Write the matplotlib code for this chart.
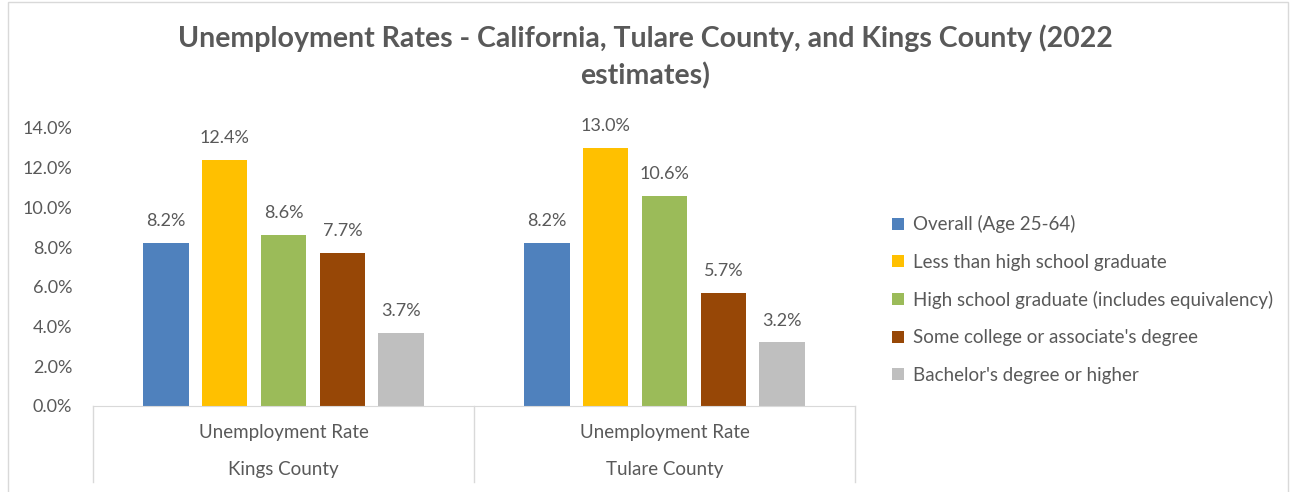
import matplotlib.pyplot as plt
from matplotlib.patches import Rectangle
from matplotlib.lines import Line2D

counties = ['Kings County', 'Tulare County']
measure = 'Unemployment Rate'
series = ['Overall (Age 25-64)', 'Less than high school graduate',
          'High school graduate (includes equivalency)',
          "Some college or associate's degree", "Bachelor's degree or higher"]
values = [
    [8.2, 8.2],
    [12.4, 13.0],
    [8.6, 10.6],
    [7.7, 5.7],
    [3.7, 3.2],
]
colors = ['#4f81bd', '#ffc000', '#9bbb59', '#974706', '#bfbfbf']
grey = '#595959'
line_grey = '#d9d9d9'

plt.rcParams['font.family'] = ['Lato', 'DejaVu Sans']

W, H = 1290, 492
fig = plt.figure(figsize=(W / 100, H / 100), dpi=100)
ax = fig.add_axes([93 / W, 1 - 406 / H, (855 - 93) / W, (406 - 128) / H])

step = 0.1545
width = 0.12
for i, (name, vals) in enumerate(zip(series, values)):
    xs = [g + (i - 2) * step for g in range(len(counties))]
    bars = ax.bar(xs, vals, width, color=colors[i], label=name)
    ax.bar_label(bars, labels=[f'{v:.1f}%' for v in vals], padding=10,
                 color=grey, fontsize=13)

ax.set_xlim(-0.5, len(counties) - 0.5)
ax.set_ylim(0, 14)
ax.set_yticks(range(0, 15, 2))
ax.set_yticklabels([f'{t:.1f}%' for t in range(0, 15, 2)])
ax.tick_params(axis='y', length=0, labelsize=13, labelcolor=grey, pad=15)
ax.set_xticks([])
for s in ['top', 'right', 'left']:
    ax.spines[s].set_visible(False)
ax.spines['bottom'].set_color(line_grey)

# category axis with two levels
for xb in [-0.5, 0.5, 1.5]:
    ax.add_line(Line2D([xb, xb], [0, -3.83], color=line_grey, lw=1, clip_on=False))
for g, c in enumerate(counties):
    ax.text(g, -1.35, measure, ha='center', va='center', color=grey, fontsize=13.5)
    ax.text(g, -3.2, c, ha='center', va='center', color=grey, fontsize=13.5)

fig.text(0.5, 1 - 38 / H, 'Unemployment Rates - California, Tulare County, and Kings County (2022',
         ha='center', va='center', fontsize=20.5, fontweight='bold', color=grey)
fig.text(0.5, 1 - 76 / H, 'estimates)', ha='center', va='center', fontsize=20.5,
         fontweight='bold', color=grey)

fig.legend(loc='upper left', bbox_to_anchor=(883 / W, 1 - 206 / H), frameon=False,
           fontsize=13.5, labelcolor=grey, handlelength=0.6, handleheight=0.6,
           handletextpad=0.5, labelspacing=1.08, borderpad=0)

fig.patches.append(Rectangle((8 / W, -0.01), (1288 - 8) / W, 1 - 2 / H + 0.01,
                             transform=fig.transFigure, fill=False,
                             edgecolor=line_grey, lw=1))

fig.savefig('out.png', dpi=100)
